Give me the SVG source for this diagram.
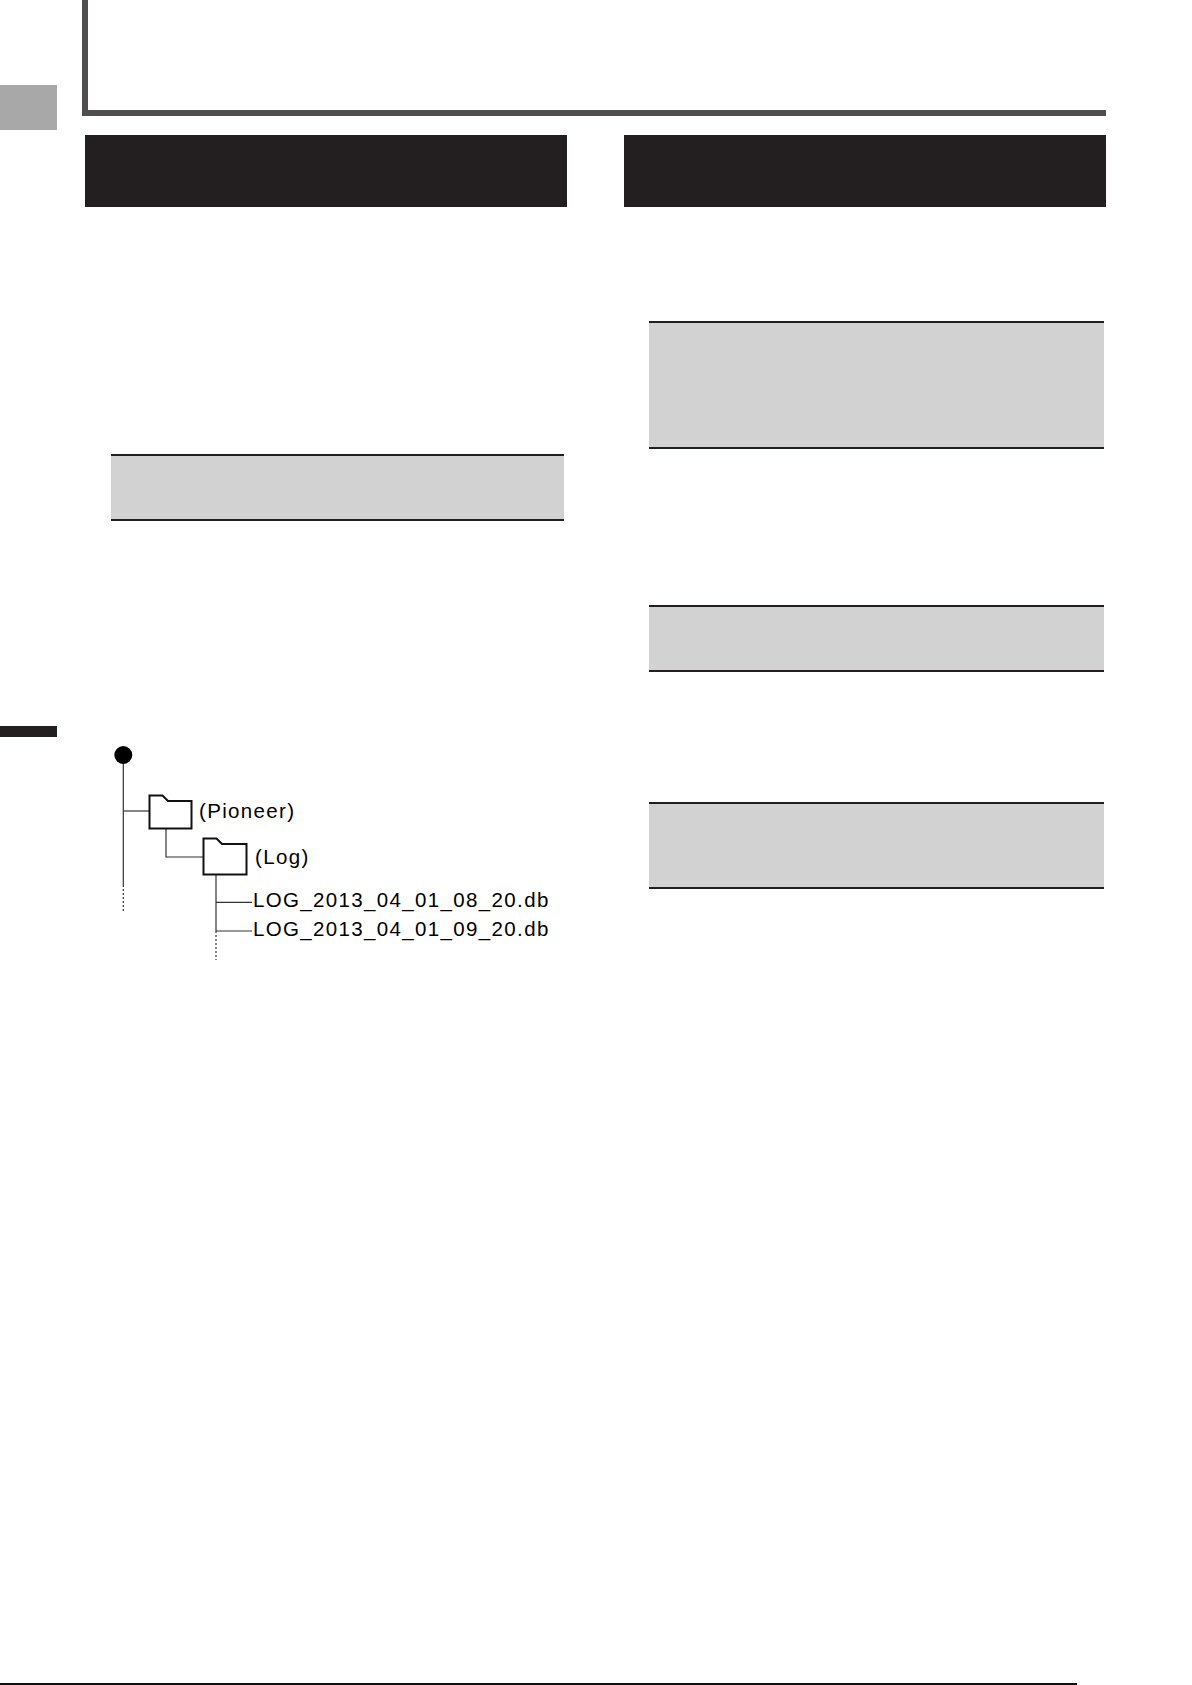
<svg xmlns="http://www.w3.org/2000/svg" width="1192" height="1685" viewBox="0 0 1192 1685">
<style>
.hdr{fill:#231f20}
.frame{fill:#4f4d4e}
.note{fill:#d2d2d2}
.rule{stroke:#231f20;stroke-width:2}
.tline{stroke:#333;stroke-width:1.2;fill:none}
.dash{stroke:#333;stroke-width:1.2;stroke-dasharray:2 2;fill:none}
.folder{fill:#fff;stroke:#111;stroke-width:2;stroke-linejoin:miter}
.lbl{font-family:"Liberation Sans",Arial,sans-serif;font-size:20.5px;letter-spacing:1.35px;fill:#000}
</style>
<rect width="1192" height="1685" fill="#fff"/>
<g id="page-frame">
<rect class="frame" x="82" y="0" width="6" height="116"/>
<rect class="frame" x="82" y="110" width="1024" height="6"/>
<rect x="0" y="85" width="57" height="45" fill="#a9a8a9"/>
<rect x="0" y="726" width="57" height="11" fill="#231f20"/>
<rect x="0" y="1683" width="1077" height="2" fill="#111"/>
</g>
<g id="header-left"><rect class="hdr" x="85" y="135" width="482" height="72"/></g>
<g id="header-right"><rect class="hdr" x="624" y="135" width="482" height="72"/></g>
<g id="note-left">
<rect class="note" x="111" y="455" width="453" height="65"/>
<line class="rule" x1="111" y1="455" x2="564" y2="455"/>
<line class="rule" x1="111" y1="520" x2="564" y2="520"/>
</g>
<g id="note-right-1">
<rect class="note" x="649" y="322" width="455" height="126"/>
<line class="rule" x1="649" y1="322" x2="1104" y2="322"/>
<line class="rule" x1="649" y1="448" x2="1104" y2="448"/>
</g>
<g id="note-right-2">
<rect class="note" x="649" y="606" width="455" height="65"/>
<line class="rule" x1="649" y1="606" x2="1104" y2="606"/>
<line class="rule" x1="649" y1="671" x2="1104" y2="671"/>
</g>
<g id="note-right-3">
<rect class="note" x="649" y="803" width="455" height="85"/>
<line class="rule" x1="649" y1="803" x2="1104" y2="803"/>
<line class="rule" x1="649" y1="888" x2="1104" y2="888"/>
</g>
<g id="connectors">
<line class="tline" x1="123.3" y1="755" x2="123.3" y2="885"/>
<line class="dash" x1="123.3" y1="885" x2="123.3" y2="912"/>
<line class="tline" x1="123.3" y1="811" x2="149" y2="811"/>
<polyline class="tline" points="166,829 166,857 203,857"/>
<line class="tline" x1="216" y1="875" x2="216" y2="931"/>
<line class="dash" x1="216" y1="931" x2="216" y2="960"/>
<line class="tline" x1="216" y1="902.3" x2="252" y2="902.3"/>
<line class="tline" x1="216" y1="931" x2="252" y2="931"/>
</g>
<g id="root"><circle cx="123.3" cy="755" r="9" fill="#000"/></g>
<g id="folder-pioneer">
<path class="folder" d="M149.5,828.5 V795.5 H162.5 L168,801 H191.5 V828.5 Z"/>
<text class="lbl" x="199" y="818">(Pioneer)</text>
</g>
<g id="folder-log">
<path class="folder" d="M203.5,874.5 V838.5 H216.5 L222,844 H246.5 V874.5 Z"/>
<text class="lbl" x="255" y="864">(Log)</text>
</g>
<g id="file-1"><text class="lbl" x="253" y="907">LOG_2013_04_01_08_20.db</text></g>
<g id="file-2"><text class="lbl" x="253" y="936">LOG_2013_04_01_09_20.db</text></g>
</svg>
